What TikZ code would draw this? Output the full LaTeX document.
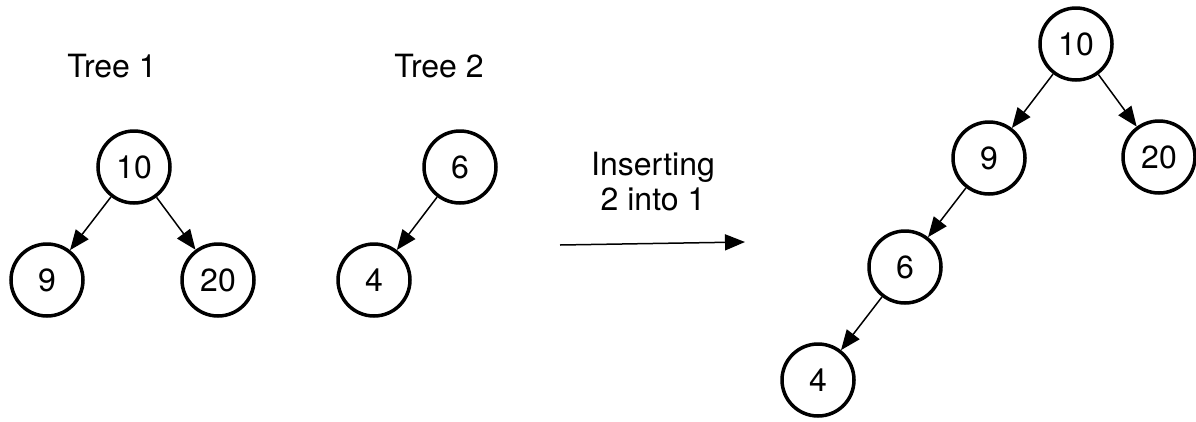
\documentclass[tikz,border=0pt]{standalone}
\usepackage{fontspec}
\setmainfont{TeX Gyre Heros}
\usetikzlibrary{arrows.meta}
\begin{document}
\begin{tikzpicture}[x=1pt,y=-1pt,
  vertex/.style={circle,draw,line width=3.5pt,minimum size=72pt,inner sep=0pt,
    font=\fontsize{32}{38}\selectfont},
  label/.style={anchor=base,inner sep=0pt,font=\fontsize{32}{38}\selectfont},
  edge/.style={line width=1.5pt,-{Triangle[length=20pt,width=16pt]}}]
\useasboundingbox (0,0) rectangle (1196,421);
% captions
\node[label] (t1) at (112,77) {Tree 1};
\node[label] (t2) at (439,77) {Tree 2};
\node[label] (ins) at (653,175) {Inserting};
\node[label] (into) at (653,210) {2 into 1};
% tree 1
\node[vertex] (a10) at (134,167) {10};
\node[vertex] (a9) at (47,280) {9};
\node[vertex] (a20) at (218,280) {20};
\draw[edge] (a10) -- (a9);
\draw[edge] (a10) -- (a20);
% tree 2
\node[vertex] (b6) at (460,167) {6};
\node[vertex] (b4) at (374,280) {4};
\draw[edge] (b6) -- (b4);
% insertion arrow
\coordinate (s) at (560,245);
\coordinate (e) at (745,242);
\draw[edge] (s) -- (e);
% merged tree
\node[vertex] (c10) at (1076,44) {10};
\node[vertex] (c9) at (989,158) {9};
\node[vertex] (c20) at (1159,157) {20};
\node[vertex] (c6) at (905,267) {6};
\node[vertex] (c4) at (818,380) {4};
\draw[edge] (c10) -- (c9);
\draw[edge] (c10) -- (c20);
\draw[edge] (c9) -- (c6);
\draw[edge] (c6) -- (c4);
\end{tikzpicture}
\end{document}
